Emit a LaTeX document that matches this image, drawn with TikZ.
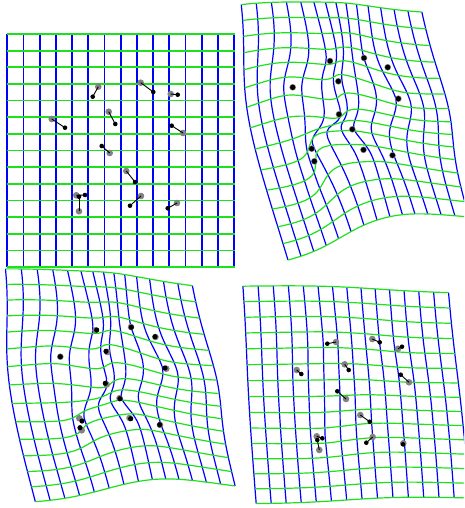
\documentclass[tikz,border=0pt]{standalone}
\definecolor{gridblue}{RGB}{0,0,255}
\definecolor{gridgreen}{RGB}{30,225,30}
\definecolor{lmgray}{RGB}{130,130,130}
\tikzset{
  gbl/.style={gridblue,line width=1.2pt},
  ggl/.style={gridgreen,line width=1.2pt},
  tlbl/.style={gridblue,line width=1.7pt},
  tlgl/.style={gridgreen,line width=1.7pt},
  pairline/.style={black,line width=0.9pt},
}
\ExplSyntaxOn
\int_new:N \g_tps_n_int
\int_new:N \l_tps_N_int
\int_new:N \l_tps_p_int
\int_new:N \l_tps_div_int
\int_new:N \l_tps_steps_int
\int_set:Nn \l_tps_div_int {2}
\int_set:Nn \l_tps_steps_int {28}
\fp_new:N \l_tps_a_fp
\fp_new:N \l_tps_b_fp
\fp_new:N \l_tps_f_fp
\fp_new:N \l_tps_r_fp
\fp_new:N \l_tps_sx_fp
\fp_new:N \l_tps_sy_fp
\tl_new:N \l_tps_path_tl
\tl_new:N \l_tps_cmd_tl
\tl_new:N \l_tps_i_tl
\tl_new:N \l_tps_j_tl
\tl_new:N \l_tps_k_tl
\tl_new:N \l_tps_t_tl
\tl_new:N \l_tps_swap_tl
\cs_new:Npn \tps_v:n #1 { ( \use:c {#1} ) }
\cs_new_protected:Npn \tps_swap:NN #1#2
 {
  \tl_set_eq:NN \l_tps_swap_tl #1
  \tl_set_eq:NN #1 #2
  \tl_set_eq:NN #2 \l_tps_swap_tl
 }
\cs_generate_variant:Nn \tps_swap:NN { cc }
\cs_new_protected:Npn \tpsclear { \int_gzero:N \g_tps_n_int }
\cs_new_protected:Npn \tpsadd #1#2#3#4
 {
  \int_gincr:N \g_tps_n_int
  \tl_gset:cx { g_tps_u_ \int_use:N \g_tps_n_int } { \fp_eval:n {#1} }
  \tl_gset:cx { g_tps_v_ \int_use:N \g_tps_n_int } { \fp_eval:n {#2} }
  \tl_gset:cx { g_tps_tx_ \int_use:N \g_tps_n_int } { \fp_eval:n {#3} }
  \tl_gset:cx { g_tps_ty_ \int_use:N \g_tps_n_int } { \fp_eval:n {#4} }
 }
\cs_new_protected:Npn \tpssolve
 {
  \int_set:Nn \l_tps_N_int { \g_tps_n_int + 3 }
  \int_step_variable:nnNn {1} {\l_tps_N_int} \l_tps_i_tl
   {
    \int_step_variable:nnNn {1} {\l_tps_N_int} \l_tps_j_tl
     { \tl_set:cn { l_tps_m_ \l_tps_i_tl _ \l_tps_j_tl } {0} }
    \tl_set:cn { l_tps_bx_ \l_tps_i_tl } {0}
    \tl_set:cn { l_tps_by_ \l_tps_i_tl } {0}
   }
  \int_step_variable:nnNn {1} {\g_tps_n_int} \l_tps_i_tl
   {
    \int_step_variable:nnNn {1} {\g_tps_n_int} \l_tps_j_tl
     {
      \fp_set:Nn \l_tps_r_fp
       { ( \tps_v:n {g_tps_u_\l_tps_i_tl} - \tps_v:n {g_tps_u_\l_tps_j_tl} )^2
       + ( \tps_v:n {g_tps_v_\l_tps_i_tl} - \tps_v:n {g_tps_v_\l_tps_j_tl} )^2 }
      \tl_set:cx { l_tps_m_ \l_tps_i_tl _ \l_tps_j_tl }
       { \fp_eval:n { \l_tps_r_fp * ln ( \l_tps_r_fp + 1e-300 ) } }
     }
    \tl_set:cn { l_tps_m_ \l_tps_i_tl _ \int_eval:n {\g_tps_n_int+1} } {1}
    \tl_set:cx { l_tps_m_ \l_tps_i_tl _ \int_eval:n {\g_tps_n_int+2} } { \use:c {g_tps_u_\l_tps_i_tl} }
    \tl_set:cx { l_tps_m_ \l_tps_i_tl _ \int_eval:n {\g_tps_n_int+3} } { \use:c {g_tps_v_\l_tps_i_tl} }
    \tl_set:cn { l_tps_m_ \int_eval:n {\g_tps_n_int+1} _ \l_tps_i_tl } {1}
    \tl_set:cx { l_tps_m_ \int_eval:n {\g_tps_n_int+2} _ \l_tps_i_tl } { \use:c {g_tps_u_\l_tps_i_tl} }
    \tl_set:cx { l_tps_m_ \int_eval:n {\g_tps_n_int+3} _ \l_tps_i_tl } { \use:c {g_tps_v_\l_tps_i_tl} }
    \tl_set:cx { l_tps_bx_ \l_tps_i_tl } { \use:c {g_tps_tx_\l_tps_i_tl} }
    \tl_set:cx { l_tps_by_ \l_tps_i_tl } { \use:c {g_tps_ty_\l_tps_i_tl} }
   }
  \int_step_variable:nnNn {1} {\l_tps_N_int} \l_tps_k_tl
   {
    \int_set:Nn \l_tps_p_int { \l_tps_k_tl }
    \fp_set:Nn \l_tps_a_fp { abs( \tps_v:n {l_tps_m_\l_tps_k_tl _\l_tps_k_tl} ) }
    \int_step_variable:nnNn { \l_tps_k_tl + 1 } {\l_tps_N_int} \l_tps_i_tl
     {
      \fp_set:Nn \l_tps_b_fp { abs( \tps_v:n {l_tps_m_\l_tps_i_tl _\l_tps_k_tl} ) }
      \fp_compare:nNnT \l_tps_b_fp > \l_tps_a_fp
       {
        \fp_set_eq:NN \l_tps_a_fp \l_tps_b_fp
        \int_set:Nn \l_tps_p_int { \l_tps_i_tl }
       }
     }
    \int_compare:nNnF \l_tps_p_int = { \l_tps_k_tl }
     {
      \int_step_variable:nnNn {1} {\l_tps_N_int} \l_tps_j_tl
       { \tps_swap:cc { l_tps_m_\l_tps_k_tl _\l_tps_j_tl } { l_tps_m_\int_use:N \l_tps_p_int _\l_tps_j_tl } }
      \tps_swap:cc { l_tps_bx_\l_tps_k_tl } { l_tps_bx_\int_use:N \l_tps_p_int }
      \tps_swap:cc { l_tps_by_\l_tps_k_tl } { l_tps_by_\int_use:N \l_tps_p_int }
     }
    \int_step_variable:nnNn { \l_tps_k_tl + 1 } {\l_tps_N_int} \l_tps_i_tl
     {
      \fp_set:Nn \l_tps_f_fp { \tps_v:n {l_tps_m_\l_tps_i_tl _\l_tps_k_tl} / \tps_v:n {l_tps_m_\l_tps_k_tl _\l_tps_k_tl} }
      \int_step_variable:nnNn { \l_tps_k_tl } {\l_tps_N_int} \l_tps_j_tl
       {
        \tl_set:cx { l_tps_m_\l_tps_i_tl _\l_tps_j_tl }
         { \fp_eval:n { \tps_v:n {l_tps_m_\l_tps_i_tl _\l_tps_j_tl} - \l_tps_f_fp * \tps_v:n {l_tps_m_\l_tps_k_tl _\l_tps_j_tl} } }
       }
      \tl_set:cx { l_tps_bx_\l_tps_i_tl } { \fp_eval:n { \tps_v:n {l_tps_bx_\l_tps_i_tl} - \l_tps_f_fp * \tps_v:n {l_tps_bx_\l_tps_k_tl} } }
      \tl_set:cx { l_tps_by_\l_tps_i_tl } { \fp_eval:n { \tps_v:n {l_tps_by_\l_tps_i_tl} - \l_tps_f_fp * \tps_v:n {l_tps_by_\l_tps_k_tl} } }
     }
   }
  \int_step_variable:nnnNn {\l_tps_N_int} {-1} {1} \l_tps_i_tl
   {
    \fp_set:Nn \l_tps_sx_fp { \tps_v:n { l_tps_bx_\l_tps_i_tl } }
    \fp_set:Nn \l_tps_sy_fp { \tps_v:n { l_tps_by_\l_tps_i_tl } }
    \int_step_variable:nnNn { \l_tps_i_tl + 1 } {\l_tps_N_int} \l_tps_j_tl
     {
      \fp_sub:Nn \l_tps_sx_fp { \tps_v:n { l_tps_m_\l_tps_i_tl _\l_tps_j_tl } * \tps_v:n { g_tps_wx_\l_tps_j_tl } }
      \fp_sub:Nn \l_tps_sy_fp { \tps_v:n { l_tps_m_\l_tps_i_tl _\l_tps_j_tl } * \tps_v:n { g_tps_wy_\l_tps_j_tl } }
     }
    \tl_gset:cx { g_tps_wx_\l_tps_i_tl } { \fp_eval:n { \l_tps_sx_fp / \tps_v:n { l_tps_m_\l_tps_i_tl _\l_tps_i_tl } } }
    \tl_gset:cx { g_tps_wy_\l_tps_i_tl } { \fp_eval:n { \l_tps_sy_fp / \tps_v:n { l_tps_m_\l_tps_i_tl _\l_tps_i_tl } } }
   }
 }
\cs_new_protected:Npn \tps_eval:nn #1#2
 {
  \fp_set:Nn \l_tps_sx_fp
   { \tps_v:n {g_tps_wx_\int_eval:n{\g_tps_n_int+1}}
   + \tps_v:n {g_tps_wx_\int_eval:n{\g_tps_n_int+2}} * (#1)
   + \tps_v:n {g_tps_wx_\int_eval:n{\g_tps_n_int+3}} * (#2) }
  \fp_set:Nn \l_tps_sy_fp
   { \tps_v:n {g_tps_wy_\int_eval:n{\g_tps_n_int+1}}
   + \tps_v:n {g_tps_wy_\int_eval:n{\g_tps_n_int+2}} * (#1)
   + \tps_v:n {g_tps_wy_\int_eval:n{\g_tps_n_int+3}} * (#2) }
  \int_step_variable:nnNn {1} {\g_tps_n_int} \l_tps_k_tl
   {
    \fp_set:Nn \l_tps_r_fp { ((#1) - \tps_v:n {g_tps_u_\l_tps_k_tl})^2 + ((#2) - \tps_v:n {g_tps_v_\l_tps_k_tl})^2 }
    \fp_set:Nn \l_tps_r_fp { \l_tps_r_fp * ln (\l_tps_r_fp + 1e-300) }
    \fp_add:Nn \l_tps_sx_fp { \tps_v:n {g_tps_wx_\l_tps_k_tl} * \l_tps_r_fp }
    \fp_add:Nn \l_tps_sy_fp { \tps_v:n {g_tps_wy_\l_tps_k_tl} * \l_tps_r_fp }
   }
 }
\cs_new_protected:Npn \tpsline #1#2#3
 {
  \tl_clear:N \l_tps_path_tl
  \int_step_variable:nnNn {0} {\l_tps_steps_int} \l_tps_t_tl
   {
    \str_if_eq:nnTF {#2} {h}
     { \tps_eval:nn { \l_tps_t_tl / \int_use:N \l_tps_div_int } {#3} }
     { \tps_eval:nn {#3} { \l_tps_t_tl / \int_use:N \l_tps_div_int } }
    \tl_put_right:Nx \l_tps_path_tl
     { ( \fp_eval:n { round(\l_tps_sx_fp, 2) } , \fp_eval:n { round(\l_tps_sy_fp, 2) } ) ~ }
   }
  \tl_set:Nx \l_tps_cmd_tl
   { \exp_not:N \draw [ \exp_not:n {#1} ] ~ plot ~ [smooth] ~ coordinates ~ { \exp_not:V \l_tps_path_tl } ; }
  \tl_use:N \l_tps_cmd_tl
 }
\cs_new_protected:Npn \tpsgrid
 {
  \int_step_inline:nnn {0} {14} { \tpsline {gbl} {v} {##1} }
  \int_step_inline:nnn {0} {14} { \tpsline {ggl} {h} {##1} }
 }
\ExplSyntaxOff

\begin{document}
\begin{tikzpicture}[x=1pt,y=-1pt]
\useasboundingbox (0,0) rectangle (464,508);
\fill[white] (0,0) rectangle (464,508);
\clip (0,0) rectangle (464,508);

% ---------------- top left: regular grid ----------------
\foreach \i in {0,...,14} \draw[tlbl] ({7.3+16.2*\i},34) -- ({7.3+16.2*\i},267.2);
\foreach \j in {0,...,14} \draw[tlgl] (6.5,{34+16.66*\j}) -- (234.9,{34+16.66*\j});
\foreach \gx/\gy/\bx/\by [count=\k] in {98.3/86.7/92.7/96.7, 140.7/82.7/153.3/92, 170.7/94/177.7/94.7,
  51.7/119/65/127.7, 108.7/111.7/115.3/124, 183/133/171.7/125.7, 109.7/153/101.7/146,
  126.3/171/135/182, 76.3/195.3/85/195, 79/211.3/79/196.7, 141/196/130/205.7, 177/203/167.7/208.3}
 {
  \coordinate (tlg\k) at (\gx,\gy);
  \coordinate (tlb\k) at (\bx,\by);
  \fill[lmgray] (tlg\k) circle (3.3pt);
  \draw[pairline] (tlg\k) -- (tlb\k);
  \fill[black] (tlb\k) circle (2.3pt);
 }

% ---------------- top right ----------------
\tpsclear
\tpsadd{5.27}{3.76}{330}{61}
\tpsadd{9.01}{3.48}{364}{58}
\tpsadd{10.52}{3.64}{387.7}{67.3}
\tpsadd{3.56}{5.62}{292.7}{87.3}
\tpsadd{6.67}{5.40}{338.3}{81.3}
\tpsadd{10.15}{5.50}{398.3}{98.7}
\tpsadd{5.83}{6.72}{339}{114.3}
\tpsadd{7.88}{8.88}{352.3}{129.3}
\tpsadd{4.80}{9.66}{311.7}{148.7}
\tpsadd{4.43}{9.77}{314.3}{161.3}
\tpsadd{7.57}{10.31}{363.5}{149.8}
\tpsadd{9.90}{10.46}{392.5}{155.3}
\tpssolve
\tpsgrid
\foreach \x/\y [count=\k] in {330/61, 364/58, 387.7/67.3, 292.7/87.3, 338.3/81.3, 398.3/98.7,
  339/114.3, 352.3/129.3, 311.7/148.7, 314.3/161.3, 363.5/149.8, 392.5/155.3}
 {
  \coordinate (trb\k) at (\x,\y);
  \fill[lmgray] (trb\k) circle (3.3pt);
  \fill[black] (trb\k) circle (2.6pt);
 }

% ---------------- bottom left ----------------
\tpsclear
\tpsadd{5.27}{3.76}{96.7}{330}
\tpsadd{9.01}{3.48}{131.3}{327.3}
\tpsadd{10.52}{3.64}{155}{336.7}
\tpsadd{3.56}{5.62}{60.3}{356.7}
\tpsadd{6.67}{5.40}{106}{351.3}
\tpsadd{10.15}{5.50}{165}{368}
\tpsadd{5.83}{6.72}{105.3}{383.3}
\tpsadd{7.88}{8.88}{120}{398.7}
\tpsadd{4.80}{9.66}{82}{421}
\tpsadd{4.43}{9.77}{80}{427.7}
\tpsadd{7.57}{10.31}{130.7}{418.7}
\tpsadd{9.90}{10.46}{159.7}{424.7}
\tpssolve
\tpsgrid
\foreach \gx/\gy/\bx/\by [count=\k] in {95.5/330.3/96.7/330, 131/327/131.3/327.3, 155.5/337/155/336.7,
  60.3/356.7/60.3/356.7, 107.3/352/106/351.3, 166.3/368.7/165/368, 106.7/384.5/105.3/383.3,
  119.5/398.2/120/398.7, 79.3/418.3/82/421, 81.7/430.3/80/427.7, 129.5/418/130.7/418.7, 160/425/159.7/424.7}
 {
  \coordinate (blg\k) at (\gx,\gy);
  \coordinate (blb\k) at (\bx,\by);
  \fill[lmgray] (blg\k) circle (3.3pt);
  \fill[black] (blb\k) circle (2.6pt);
 }

% ---------------- bottom right ----------------
\tpsclear
\tpsadd{5.27}{3.76}{327.3}{343.7}
\tpsadd{9.01}{3.48}{379.7}{342.3}
\tpsadd{10.52}{3.64}{402}{346.7}
\tpsadd{3.56}{5.62}{301.3}{374}
\tpsadd{6.67}{5.40}{348.7}{370}
\tpsadd{10.15}{5.50}{400.7}{374.7}
\tpsadd{5.83}{6.72}{337.3}{391.3}
\tpsadd{7.88}{8.88}{369.7}{421.7}
\tpsadd{4.80}{9.66}{322.3}{438.3}
\tpsadd{4.43}{9.77}{317.3}{440}
\tpsadd{7.57}{10.31}{366.3}{442.7}
\tpsadd{9.90}{10.46}{403}{444.3}
\tpssolve
\tpsgrid
\foreach \gx/\gy/\bx/\by [count=\k] in {336/342/327.3/343.7, 372.3/339/379.7/342.3, 398/348.7/402/346.7,
  296.7/370/301.3/374, 344.7/364.3/348.7/370, 409/382.3/400.7/374.7, 346/399/337.3/391.3,
  360.3/415/369.7/421.7, 316.7/436.3/322.3/438.3, 319.3/450/317.3/440, 372.7/437/366.3/442.7, 403.3/443.3/403/444.3}
 {
  \coordinate (brg\k) at (\gx,\gy);
  \coordinate (brb\k) at (\bx,\by);
  \fill[lmgray] (brg\k) circle (3.3pt);
  \draw[pairline] (brg\k) -- (brb\k);
  \fill[black] (brb\k) circle (2.3pt);
 }
\end{tikzpicture}
\end{document}
